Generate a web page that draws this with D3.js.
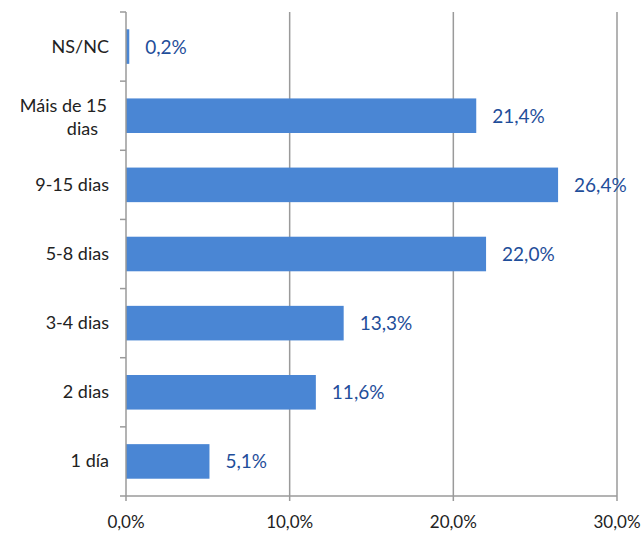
<!DOCTYPE html>
<html>
<head>
<meta charset="utf-8">
<script src="https://cdn.jsdelivr.net/npm/d3@7"></script>
<style>
  body { margin: 0; background: #fff; }
  text { font-family: Lato, "Open Sans", sans-serif; }
</style>
</head>
<body>
<script>
// chart data
const categories = ["NS/NC", "Máis de 15 dias", "9-15 dias", "5-8 dias", "3-4 dias", "2 dias", "1 día"];
const values = [0.2, 21.4, 26.4, 22.0, 13.3, 11.6, 5.1];
const xTicks = [0, 10, 20, 30];

const width = 644, height = 533;
const margin = { top: 12, right: 27, bottom: 37, left: 126 };
const w = width - margin.left - margin.right,
  h = height - margin.top - margin.bottom;

const svg = d3.select("body").append("svg")
  .attr("width", width)
  .attr("height", height)
  .append("g")
  .attr("transform", `translate(${margin.left}, ${margin.top})`);

const x = d3.scaleLinear().domain([0, 30]).range([0, w]);
const y = d3.scaleBand().domain(categories).range([0, h]).paddingInner(0.5).paddingOuter(0.25);

const fmt = v => v.toFixed(1).replace(".", ",") + "%";
const gridColor = "#9a9a9a";

// vertical gridlines
svg.selectAll(".grid")
  .data(xTicks.slice(1))
  .join("line")
  .attr("x1", d => x(d)).attr("x2", d => x(d))
  .attr("y1", 0).attr("y2", h + 5)
  .attr("stroke", gridColor).attr("stroke-width", 1.5);

// bars
svg.selectAll("rect")
  .data(values)
  .join("rect")
  .attr("x", 0)
  .attr("y", (d, i) => y(categories[i]))
  .attr("width", d => x(d))
  .attr("height", y.bandwidth())
  .attr("fill", "#4a86d4");

// y axis line + ticks at band boundaries
svg.append("line")
  .attr("x1", 0).attr("x2", 0).attr("y1", 0).attr("y2", h)
  .attr("stroke", gridColor).attr("stroke-width", 1.5);
const step = h / categories.length;
svg.selectAll(".ytick")
  .data(d3.range(categories.length + 1))
  .join("line")
  .attr("x1", -6).attr("x2", 0)
  .attr("y1", d => d * step).attr("y2", d => d * step)
  .attr("stroke", gridColor).attr("stroke-width", 1.5);

// x axis line + ticks
svg.append("line")
  .attr("x1", 0).attr("x2", w).attr("y1", h).attr("y2", h)
  .attr("stroke", gridColor).attr("stroke-width", 1.5);
svg.append("line")
  .attr("x1", 0).attr("x2", 0).attr("y1", h).attr("y2", h + 5)
  .attr("stroke", gridColor).attr("stroke-width", 1.5);

// x tick labels
svg.selectAll(".xlab")
  .data(xTicks)
  .join("text")
  .attr("x", d => x(d))
  .attr("y", h + 32)
  .attr("text-anchor", "middle")
  .attr("font-size", 17)
  .attr("fill", "#222")
  .text(d => fmt(d));

// category labels
svg.selectAll(".ylab")
  .data(categories)
  .join("text")
  .attr("text-anchor", "end")
  .attr("font-size", 18)
  .attr("fill", "#222")
  .each(function (d) {
    const t = d3.select(this);
    const cy = y(d) + y.bandwidth() / 2;
    if (d === "Máis de 15 dias") {
      t.append("tspan").attr("x", -19).attr("y", cy - 4).text("Máis de 15");
      t.append("tspan").attr("x", -28).attr("y", cy + 19).text("dias");
    } else {
      t.attr("x", -17).attr("y", cy + 6).text(d);
    }
  });

// value labels
svg.selectAll(".vlab")
  .data(values)
  .join("text")
  .attr("x", d => x(d) + 16)
  .attr("y", (d, i) => y(categories[i]) + y.bandwidth() / 2 + 7)
  .attr("font-size", 19)
  .attr("fill", "#1f4e9a")
  .text(d => fmt(d));
</script>
</body>
</html>
